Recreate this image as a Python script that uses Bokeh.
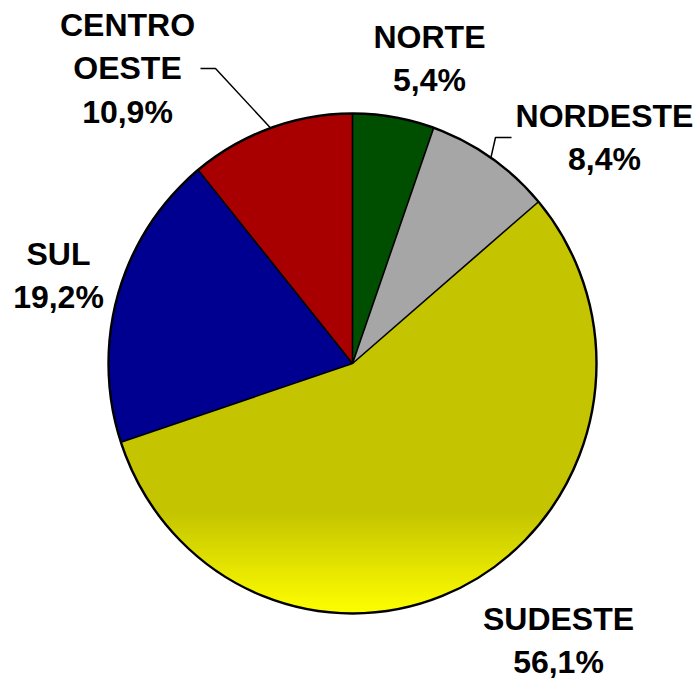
import numpy as np
from bokeh.plotting import figure
from bokeh.models import Range1d, ColumnDataSource
from bokeh.embed import file_html
from bokeh.resources import INLINE
from bokeh.core.properties import value

# ---- data ----
regions = ["NORTE", "NORDESTE", "SUDESTE", "SUL", "CENTRO OESTE"]
shares = [5.4, 8.4, 56.1, 19.2, 10.9]
label_lines = [["NORTE"], ["NORDESTE"], ["SUDESTE"], ["SUL"], ["CENTRO", "OESTE"]]
colors = ["#004F00", "#A6A6A6", "#C4C400", "#000090", "#A80000"]

# ---- layout / style ----
W, H = 699, 680
CX, CY, RX, RY = 352, 363, 244, 250
label_anchor = [(429, 36), (604, 115), (558, 618), (58, 253), (127, 24)]
LINE_GAP = 43.5
leader_elbow = {1: [(511, 137), (495, 137)], 4: [(200, 68), (215, 68)]}
FONT = value("Liberation Sans")

p = figure(width=W, height=H, x_range=Range1d(0, W), y_range=Range1d(H, 0),
           output_backend="svg", toolbar_location=None, min_border=0,
           x_axis_location=None, y_axis_location=None)
p.grid.visible = False
p.outline_line_color = None
p.background_fill_color = "white"
p.border_fill_color = "white"

total = float(sum(shares))
edges = np.concatenate([[0.0], np.cumsum(shares)]) / total * 2 * np.pi


def pt(theta, fx=1.0, fy=1.0):
    return CX + RX * fx * np.sin(theta), CY - RY * fy * np.cos(theta)


# wedges
xs, ys = [], []
for a0, a1 in zip(edges[:-1], edges[1:]):
    t = np.linspace(a0, a1, max(8, int((a1 - a0) * 120)))
    ex, ey = pt(t)
    xs.append([CX] + list(ex))
    ys.append([CY] + list(ey))
p.patches(xs=xs, ys=ys, fill_color=colors, line_color=None)

# gradient at the bottom of the SUDESTE slice
g_top, g_bot = 510.0, CY + RY
yb = np.linspace(g_top, g_bot, 60)
bx, by, bc = [], [], []
c0 = np.array([196, 196, 0]); c1 = np.array([255, 255, 0])


def hw(y):
    v = 1 - ((min(y, CY + RY) - CY) / RY) ** 2
    return RX * np.sqrt(max(v, 0.0))


for k in range(len(yb) - 1):
    ya, yc = yb[k], yb[k + 1] + 0.6
    wa, wc = hw(ya), hw(yc)
    bx.append([CX - wa, CX + wa, CX + wc, CX - wc])
    by.append([ya, ya, yc, yc])
    f = (0.5 * (yb[k] + yb[k + 1]) - g_top) / (g_bot - g_top)
    c = (c0 + (c1 - c0) * f).astype(int)
    bc.append("#%02X%02X%02X" % tuple(c))
p.patches(xs=bx, ys=by, fill_color=bc, line_color=None)

# radial borders
bxs, bys = pt(edges[:-1])
p.segment(x0=[CX] * len(bxs), y0=[CY] * len(bxs), x1=list(bxs), y1=list(bys),
          line_color="black", line_width=1.6)

# outline
p.ellipse(x=[CX], y=[CY], width=[2 * RX], height=[2 * RY], fill_color=None,
          line_color="black", line_width=2.4)

# leader lines
for i, elbow in leader_elbow.items():
    mid = 0.5 * (edges[i] + edges[i + 1])
    ex, ey = pt(mid)
    lx = [e[0] for e in elbow] + [ex]
    ly = [e[1] for e in elbow] + [ey]
    p.line(lx, ly, line_color="black", line_width=1.5)

# labels
tx, ty, tt = [], [], []
for i, s in enumerate(shares):
    pct = ("%.1f" % s).replace(".", ",") + "%"
    lines = label_lines[i] + [pct]
    ax, ay = label_anchor[i]
    for k, ln in enumerate(lines):
        tx.append(ax); ty.append(ay + k * LINE_GAP); tt.append(ln)
p.text(x=tx, y=ty, text=tt, text_font=FONT, text_font_style="bold",
       text_font_size="32px", text_align="center", text_baseline="alphabetic",
       text_color="black")

open("out.html", "w").write(file_html(p, INLINE))
